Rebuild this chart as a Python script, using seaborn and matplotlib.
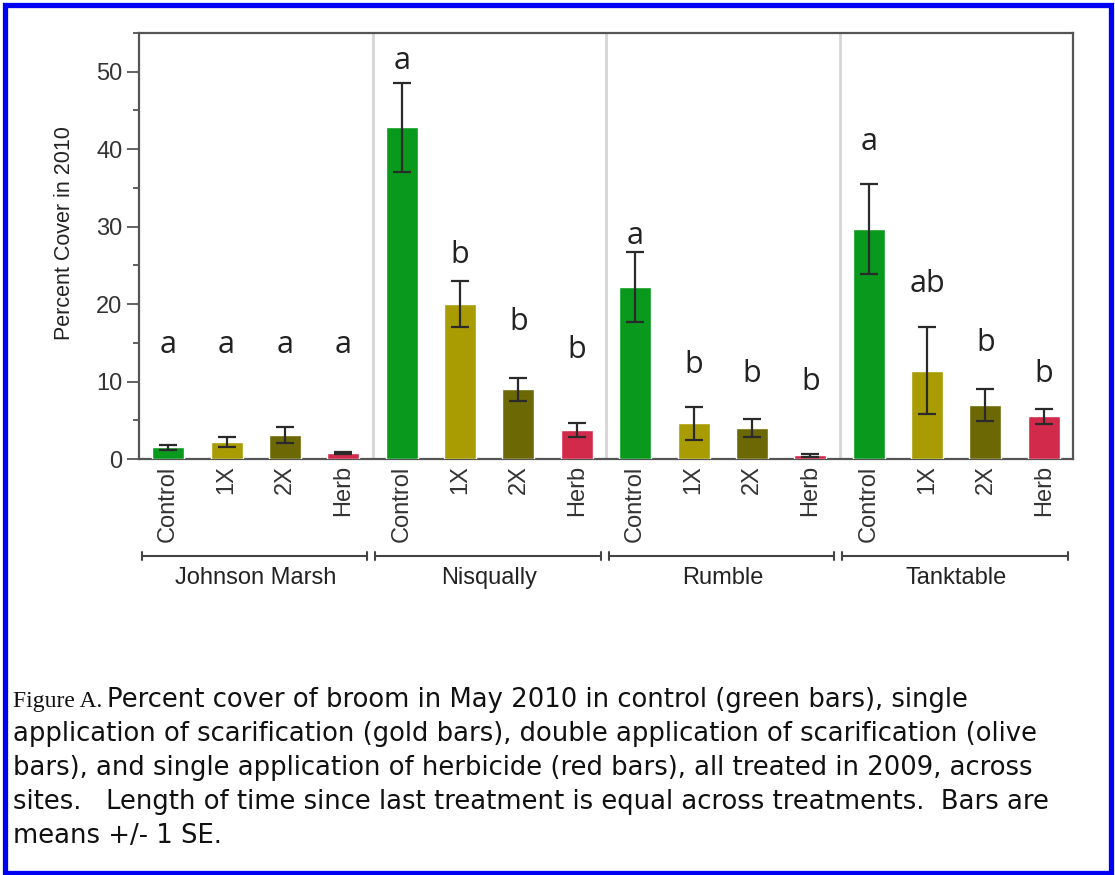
import matplotlib
matplotlib.use("Agg")
import matplotlib.pyplot as plt
import matplotlib.transforms as mtransforms
from matplotlib.lines import Line2D
from matplotlib.patches import Rectangle
from matplotlib.ticker import MultipleLocator
import numpy as np
import pandas as pd
import seaborn as sns

# ---- data -------------------------------------------------------------
sites = ["Johnson Marsh", "Nisqually", "Rumble", "Tanktable"]
treatments = ["Control", "1X", "2X", "Herb"]

johnson_mean = [1.5, 2.2, 3.1, 0.8]
johnson_se = [0.3, 0.7, 1.05, 0.15]
nisqually_mean = [42.8, 20.0, 9.0, 3.8]
nisqually_se = [5.8, 3.0, 1.5, 0.9]
rumble_mean = [22.2, 4.6, 4.0, 0.5]
rumble_se = [4.5, 2.1, 1.2, 0.2]
tanktable_mean = [29.7, 11.4, 7.0, 5.5]
tanktable_se = [5.8, 5.6, 2.1, 1.0]

# significance letters and the height (percent cover) of their baselines
letters = [["a", "a", "a", "a"],
           ["a", "b", "b", "b"],
           ["a", "b", "b", "b"],
           ["a", "ab", "b", "b"]]
letter_y = [[13.7, 13.7, 13.7, 13.7],
            [50.4, 25.3, 16.7, 13.0],
            [27.8, 11.1, 9.9, 8.9],
            [39.9, 21.5, 14.0, 10.0]]

caption_lines = [
    "application of scarification (gold bars), double application of scarification (olive",
    "bars), and single application of herbicide (red bars), all treated in 2009, across",
    "sites.   Length of time since last treatment is equal across treatments.  Bars are",
    "means +/- 1 SE.",
]
caption_head = "Figure A."
caption_first = "Percent cover of broom in May 2010 in control (green bars), single"

# ---- table ------------------------------------------------------------
means = [johnson_mean, nisqually_mean, rumble_mean, tanktable_mean]
ses = [johnson_se, nisqually_se, rumble_se, tanktable_se]
rows = []
for s, site in enumerate(sites):
    for t, trt in enumerate(treatments):
        rows.append({"slot": f"{site}|{trt}", "site": site, "treatment": trt,
                     "cover": means[s][t], "se": ses[s][t],
                     "letter": letters[s][t], "letter_y": letter_y[s][t]})
df = pd.DataFrame(rows)

palette = {"Control": "#08991d", "1X": "#a89c02", "2X": "#6c6804", "Herb": "#d22a4b"}

# ---- figure -----------------------------------------------------------
W, H = 1115, 875
sns.set_style("white")
plt.rcParams["font.family"] = ["Liberation Sans", "DejaVu Sans"]

fig = plt.figure(figsize=(W / 100, H / 100), dpi=100)
ax = fig.add_axes([139 / W, 1 - 459 / H, (1073 - 139) / W, (459 - 33) / H])

sns.barplot(data=df, x="slot", y="cover", hue="treatment", order=list(df["slot"]),
            hue_order=treatments, palette=palette, dodge=False, width=0.55,
            saturation=1, errorbar=None, legend=False, ax=ax, zorder=3)

xpos = np.arange(len(df))
ax.errorbar(xpos, df["cover"], yerr=df["se"], fmt="none", ecolor="#2a2a2a",
            elinewidth=1.6, capsize=6.5, capthick=1.6, zorder=4)

# site separators
for b in [3.5, 7.5, 11.5]:
    ax.axvline(b, color="#d6d6d6", lw=2, zorder=1)

# significance letters
for i, r in df.iterrows():
    ax.text(i, r["letter_y"], r["letter"], ha="center", va="baseline",
            family="Open Sans", fontsize=22, color="#222222", zorder=5)

ax.set_xlim(-0.5, len(df) - 0.5)
ax.set_ylim(0, 55)
ax.yaxis.set_major_locator(MultipleLocator(10))
ax.yaxis.set_minor_locator(MultipleLocator(5))
ax.set_xticks(xpos)
ax.set_xticklabels(df["treatment"], rotation=90, ha="center", va="top")
ax.set_xlabel("")
ax.set_ylabel("Percent Cover in 2010", fontsize=15.5, color="#222222")
ax.yaxis.set_label_coords(-0.069, 0.53)

for sp in ax.spines.values():
    sp.set_visible(True)
    sp.set_color("#555555")
    sp.set_linewidth(1.6)
ax.tick_params(axis="y", which="major", direction="out", length=9, width=1.3,
               color="#555555", labelsize=17, labelcolor="#333333", pad=3, left=True)
ax.tick_params(axis="y", which="minor", direction="out", length=4.5, width=1.3,
               color="#555555", left=True)
ax.tick_params(axis="x", length=0, labelsize=17, labelcolor="#333333", pad=4.5)

# site brackets and names beneath the tick labels
trans = mtransforms.blended_transform_factory(ax.transData, ax.transAxes)
yb = -0.2277
tick_h = 0.009
for g, site in enumerate(sites):
    x0, x1 = g * 4 - 0.45, g * 4 + 3.41
    ax.add_line(Line2D([x0, x1], [yb, yb], transform=trans, color="#444444",
                       lw=1.5, clip_on=False))
    for xe in (x0, x1):
        ax.add_line(Line2D([xe, xe], [yb - tick_h, yb + tick_h], transform=trans,
                           color="#444444", lw=1.5, clip_on=False))
    ax.text(g * 4 + 1.5, -0.279, site, transform=trans, ha="center", va="center",
            fontsize=17, color="#222222")

# caption: body size chosen so the longest body line spans the text block
fig.canvas.draw()
renderer = fig.canvas.get_renderer()
cap_family = "DejaVu Sans"
probe = fig.text(0, 0, caption_lines[0], family=cap_family, fontsize=10)
probe_w = probe.get_window_extent(renderer).width
probe.remove()
cap_size = 10 * (1030 / probe_w)

x_left = 13 / W
t_head = fig.text(x_left, 1 - 707 / H, caption_head, family="Liberation Serif",
                  fontsize=17, va="baseline", color="#111111")
bb = t_head.get_window_extent(renderer)
fig.text((bb.x1 + 5) / W, 1 - 707 / H, caption_first, family=cap_family,
         fontsize=cap_size, va="baseline", color="#111111")
for k, line in enumerate(caption_lines):
    fig.text(x_left, 1 - (741 + 34 * k) / H, line, family=cap_family,
             fontsize=cap_size, va="baseline", color="#111111")

# blue frame
fig.patches.append(Rectangle((5 / W, 2.5 / H), (1111 - 5) / W, (870.5 - 2.5) / H,
                             transform=fig.transFigure, fill=False,
                             edgecolor="#0000f2", linewidth=3.8))

fig.savefig("out.png", dpi=100)
